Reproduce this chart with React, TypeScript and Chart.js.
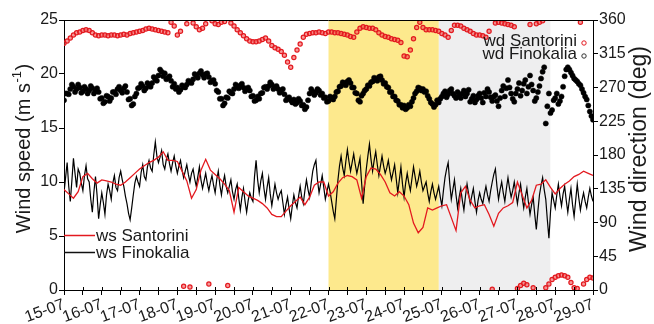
import React, { useEffect, useRef } from 'react';
import { Chart, registerables } from 'chart.js';

Chart.register(...registerables);

const FONT = '"Liberation Sans", Arial, Helvetica, sans-serif';

// x axis: days since 15-07 00:00
const dayLabels = ['15-07', '16-07', '17-07', '18-07', '19-07', '20-07', '21-07', '22-07', '23-07', '24-07', '25-07', '26-07', '27-07', '28-07', '29-07'];

// shaded periods (days since 15-07)
const yellowPeriod = [7.0, 9.92];
const grayPeriod = [9.92, 12.87];

// ws Santorini, m/s, every 3 h
const wsSantorini = [
  9.3, 8.9, 8.5, 9.1, 10.5, 10.8, 10.3, 9.9, 10.2, 10.1,
  10.0, 9.8, 9.7, 10.0, 10.4, 10.8, 11.2, 11.5, 11.8, 12.0,
  12.3, 12.8, 12.0, 12.0, 11.9, 11.0, 10.1, 8.5, 9.3, 11.1,
  12.1, 11.1, 10.7, 10.3, 9.8, 9.2, 7.2, 9.5, 9.1, 8.7,
  8.5, 8.3, 8.0, 7.6, 7.0, 6.8, 6.8, 7.3, 7.8, 8.2,
  8.6, 7.9, 8.6, 9.7, 10.0, 10.0, 8.7, 9.1, 9.9, 10.4,
  10.6, 10.5, 10.2, 8.5, 10.5, 11.3, 11.2, 10.7, 10.0, 9.0,
  8.7, 9.1, 8.7, 7.9, 6.2, 5.3, 5.8, 7.6, 7.4, 7.6,
  7.8, 7.9, 6.7, 5.5, 9.0, 9.6, 8.3, 7.6, 7.8, 7.9,
  7.0, 5.9, 7.1, 7.6, 7.8, 8.1, 10.0, 8.8, 7.6, 8.3,
  9.7, 9.8, 10.2, 9.5, 8.9, 9.4, 9.8, 10.1, 10.5, 10.7,
  11.0, 10.8, 10.6,
];
const wsSantoriniStepH = 3;

// ws Finokalia, m/s, hourly (one row per day)
const wsFinokalia = [
  9.0, 10.4, 11.8, 9.6, 8.2, 10.1, 12.2, 10.8, 9.5, 11.2, 10.8, 9.9, 9.2, 10.6, 11.5, 10.3, 10.0, 8.4, 7.2, 9.1, 10.5, 8.8, 6.6, 7.9,
  9.0, 8.1, 7.0, 8.8, 9.8, 9.2, 8.4, 9.9, 10.6, 9.5, 9.2, 10.4, 11.0, 10.2, 9.6, 8.7, 8.0, 7.1, 6.5, 7.6, 8.8, 9.9, 10.5, 10.0,
  9.6, 10.9, 11.6, 10.5, 10.2, 11.4, 12.0, 11.3, 11.0, 12.5, 13.7, 12.4, 11.8, 12.3, 12.9, 11.6, 11.2, 12.1, 12.6, 11.7, 11.0, 11.8, 12.4, 11.5,
  10.8, 11.5, 12.0, 11.1, 10.4, 11.0, 11.6, 10.7, 10.0, 10.8, 11.2, 10.3, 9.6, 10.5, 11.4, 10.2, 9.4, 10.1, 10.8, 9.9, 9.2, 10.0, 10.6, 9.7,
  9.0, 10.2, 11.0, 9.7, 8.8, 9.9, 10.6, 9.6, 9.0, 9.6, 10.2, 9.1, 8.4, 9.3, 9.8, 8.5, 7.4, 8.6, 9.4, 8.2, 7.2, 8.3, 9.0, 8.5,
  8.2, 10.5, 12.0, 10.2, 9.0, 10.1, 10.8, 9.4, 8.4, 9.5, 10.4, 8.9, 7.8, 8.8, 9.8, 9.0, 8.4, 8.9, 9.2, 8.1, 7.0, 7.9, 8.6, 7.5,
  6.6, 7.8, 8.8, 8.1, 7.6, 8.7, 9.6, 8.6, 8.0, 9.2, 10.2, 9.3, 8.6, 9.9, 11.0, 11.6, 12.0, 10.2, 9.0, 9.8, 10.6, 9.5, 8.4, 9.1,
  9.8, 9.1, 8.2, 7.3, 6.6, 8.4, 10.2, 11.5, 12.4, 11.3, 10.6, 11.9, 13.0, 11.9, 11.0, 11.8, 12.6, 11.6, 10.8, 11.5, 12.2, 10.0, 8.0, 9.7,
  11.2, 12.4, 13.5, 12.1, 11.0, 12.0, 12.8, 11.6, 10.6, 11.5, 12.4, 11.5, 10.8, 11.3, 12.0, 11.0, 10.2, 10.9, 11.6, 10.3, 9.0, 10.2, 11.4, 9.8,
  8.6, 9.9, 10.8, 9.9, 9.2, 10.3, 11.4, 10.5, 9.6, 10.2, 11.0, 10.0, 9.2, 9.6, 10.0, 9.0, 8.2, 9.1, 9.8, 9.0, 8.4, 9.0, 9.6, 8.6,
  7.8, 9.2, 10.4, 11.2, 11.8, 9.9, 8.4, 9.3, 10.2, 8.8, 7.6, 8.6, 9.4, 8.3, 7.4, 8.7, 9.8, 8.9, 8.0, 8.7, 9.4, 8.2, 7.2, 8.3,
  9.0, 8.4, 8.0, 8.9, 9.6, 8.8, 8.2, 9.2, 10.0, 10.7, 11.2, 9.6, 8.4, 9.3, 10.0, 9.0, 8.2, 9.4, 10.4, 9.4, 8.6, 9.2, 10.0, 9.0,
  8.0, 9.0, 9.8, 8.6, 7.6, 8.6, 9.4, 8.1, 7.0, 7.9, 8.6, 7.0, 5.6, 7.3, 8.8, 9.7, 10.4, 9.3, 8.4, 6.5, 4.8, 7.2, 9.0, 8.3,
  7.6, 8.8, 9.8, 8.7, 7.8, 8.9, 9.6, 8.3, 7.2, 8.4, 9.4, 7.9, 6.8, 8.3, 9.8, 8.5, 7.4, 8.3, 9.0, 8.2, 7.6, 8.6, 9.4, 8.7, 8.2,
];
const wsFinokaliaStepH = 1;

// wd Santorini, deg, every 2 h
const wdSantorini = [
  329, 332, 336, 340, 343, 344, 346, 347, 346, 343, 340, 339,
  340, 340, 339, 340, 340, 339, 340, 341, 340, 342, 343, 344,
  345, 346, 348, 349, 348, 347, 346, 345, 344, 343, 357, 352,
  340, 345, 5, 355, 4, 356, 351, 347, 349, 355, 8, 359,
  355, 354, 357, 358, 6, 356, 352, 347, 343, 339, 335, 332,
  331, 331, 332, 334, 336, 332, 326, 323, 321, 318, 313, 304,
  297, 310, 320, 328, 337, 341, 342, 343, 343, 344, 343, 342,
  344, 344, 343, 343, 342, 341, 340, 338, 337, 344, 349, 351,
  350, 349, 349, 347, 343, 340, 338, 337, 335, 334, 333, 330,
  312, 311, 320, 335, 350, 357, 350, 347, 347, 347, 346, 345,
  342, 340, 337, 346, 353, 353, 352, 349, 347, 345, 342, 340,
  340, 339, 337, 345, 1, 356, 357, 356, 355, 354, 353, 351,
  2, 6, 9, 7, 354, 3, 355, 357, 359, 3, 8, 14,
  17, 19, 20, 19, 17, 10, 3, 2, 357, 8, 14, 17, 16,
];
const wdSantoriniStepH = 2;

// wd Finokalia, deg, hourly (one row per day)
const wdFinokalia = [
  253, 262, 262, 261, 268, 274, 271, 264, 268, 274, 270, 263, 265, 271, 268, 262, 266, 272, 269, 262, 265, 269, 264, 255,
  256, 249, 251, 259, 258, 252, 256, 264, 264, 261, 268, 271, 266, 263, 269, 272, 264, 254, 255, 246, 248, 258, 262, 269,
  270, 275, 272, 266, 269, 276, 273, 271, 276, 284, 281, 279, 286, 294, 291, 285, 289, 281, 283, 285, 279, 271, 275, 268,
  270, 264, 267, 273, 271, 270, 274, 279, 277, 276, 281, 288, 286, 283, 289, 292, 287, 283, 288, 289, 284, 277, 279, 280,
  275, 266, 264, 255, 255, 246, 249, 257, 256, 265, 263, 262, 268, 274, 271, 269, 273, 275, 270, 265, 268, 270, 266, 258,
  259, 252, 253, 258, 255, 262, 263, 270, 271, 268, 272, 277, 274, 268, 270, 272, 268, 263, 266, 268, 261, 253, 256, 257,
  253, 250, 254, 248, 250, 255, 252, 246, 247, 241, 244, 253, 262, 268, 265, 260, 263, 268, 266, 260, 262, 256, 257, 251,
  252, 258, 256, 254, 258, 264, 265, 271, 272, 277, 276, 273, 278, 280, 276, 270, 270, 263, 262, 253, 251, 259, 262, 266,
  268, 273, 272, 277, 278, 283, 281, 279, 284, 285, 280, 275, 276, 271, 270, 264, 264, 258, 258, 253, 252, 247, 247, 243,
  246, 241, 243, 247, 245, 251, 256, 262, 265, 270, 269, 266, 268, 264, 265, 259, 255, 250, 248, 244, 247, 253, 250, 255,
  258, 262, 265, 257, 261, 266, 268, 262, 259, 256, 264, 259, 256, 262, 266, 258, 262, 267, 251, 255, 259, 250, 254, 259,
  262, 256, 250, 263, 258, 268, 264, 257, 252, 258, 260, 252, 245, 256, 266, 272, 258, 269, 280, 270, 262, 255, 251, 262,
  268, 276, 259, 266, 275, 280, 262, 271, 286, 274, 266, 252, 256, 264, 272, 282, 291, 297, 222, 245, 262, 236, 240, 253,
  256, 262, 248, 252, 258, 271, 285, 294, 297, 294, 290, 286, 282, 280, 278, 275, 273, 268, 263, 258, 254, 246, 238, 232, 227,
];
const wdFinokaliaStepH = 1;

const seriesNames = ['ws Santorini', 'ws Finokalia', 'wd Santorini', 'wd Finokalia'];
const leftTitle = ['Wind speed (m s', '-1', ')'];
const rightTitle = 'Wind direction (deg)';

const RED = '#e3191f';

const toPoints = (vals: number[], stepH: number) => vals.map((v, i) => ({ x: (i * stepH) / 24, y: v }));

const decorPlugin = {
  id: 'decor',
  beforeDraw(chart: any) {
    const { ctx, chartArea: a, scales } = chart;
    const x = scales.x;
    ctx.save();
    const y0 = x.getPixelForValue(yellowPeriod[0]);
    const y1 = x.getPixelForValue(yellowPeriod[1]);
    ctx.fillStyle = '#fde98d';
    ctx.fillRect(y0, a.top, y1 - y0, a.bottom - a.top);
    const g0 = x.getPixelForValue(grayPeriod[0]);
    const g1 = x.getPixelForValue(grayPeriod[1]);
    ctx.fillStyle = '#eeeeef';
    ctx.fillRect(g0, a.top, g1 - g0, a.bottom - a.top);
    ctx.restore();
  },
  afterDraw(chart: any) {
    const { ctx, chartArea: a, scales } = chart;
    const x = scales.x;
    ctx.save();
    // top frame line
    ctx.strokeStyle = '#000';
    ctx.lineWidth = 1;
    ctx.beginPath();
    ctx.moveTo(a.left, Math.round(a.top) + 0.5);
    ctx.lineTo(a.right, Math.round(a.top) + 0.5);
    ctx.stroke();
    // inner part of x ticks
    ctx.beginPath();
    x.ticks.forEach((t: any) => {
      const px = Math.round(x.getPixelForValue(t.value)) + 0.5;
      ctx.moveTo(px, a.bottom - 3);
      ctx.lineTo(px, a.bottom);
    });
    ctx.stroke();

    // axis titles
    ctx.fillStyle = '#1a1a1a';
    ctx.textBaseline = 'middle';
    const mainF = `20px ${FONT}`;
    const supF = `13px ${FONT}`;
    ctx.font = mainF;
    const w1 = ctx.measureText(leftTitle[0]).width;
    const w3 = ctx.measureText(leftTitle[2]).width;
    ctx.font = supF;
    const w2 = ctx.measureText(leftTitle[1]).width;
    const tot = w1 + w2 + w3;
    ctx.save();
    ctx.translate(24, (a.top + a.bottom) / 2 - 6);
    ctx.rotate(-Math.PI / 2);
    ctx.textAlign = 'left';
    ctx.font = mainF;
    ctx.fillText(leftTitle[0], -tot / 2, 0);
    ctx.font = supF;
    ctx.fillText(leftTitle[1], -tot / 2 + w1 + 0.5, -7);
    ctx.font = mainF;
    ctx.fillText(leftTitle[2], -tot / 2 + w1 + w2 + 1, 0);
    ctx.restore();

    ctx.save();
    ctx.translate(640, (a.top + a.bottom) / 2 - 6);
    ctx.rotate(-Math.PI / 2);
    ctx.textAlign = 'center';
    ctx.font = `23px ${FONT}`;
    ctx.fillText(rightTitle, 0, 0);
    ctx.restore();

    // legend bottom-left (lines)
    ctx.font = `17px ${FONT}`;
    ctx.textAlign = 'left';
    ctx.textBaseline = 'middle';
    const lx0 = a.left;
    const lx1 = a.left + 31;
    const ly = [a.top + 215, a.top + 232];
    const lc = [RED, '#111'];
    for (let k = 0; k < 2; k++) {
      ctx.strokeStyle = lc[k];
      ctx.lineWidth = 1.5;
      ctx.beginPath();
      ctx.moveTo(lx0, ly[k] + 0.5);
      ctx.lineTo(lx1, ly[k] + 0.5);
      ctx.stroke();
      ctx.fillStyle = '#1a1a1a';
      ctx.fillText(seriesNames[k], lx1 + 1, ly[k] + 1);
    }

    // legend top-right (markers)
    ctx.textAlign = 'right';
    const ry = [a.top + 21, a.top + 34];
    const rc = [RED, '#333'];
    for (let k = 0; k < 2; k++) {
      ctx.fillStyle = '#1a1a1a';
      ctx.fillText(seriesNames[k + 2], a.right - 16, ry[k]);
      ctx.strokeStyle = rc[k];
      ctx.lineWidth = 1;
      ctx.beginPath();
      ctx.arc(a.right - 9, ry[k] + 2, 2.2, 0, Math.PI * 2);
      ctx.stroke();
    }
    ctx.restore();
  },
};

export default function App() {
  const canvasRef = useRef<HTMLCanvasElement | null>(null);

  useEffect(() => {
    const canvas = canvasRef.current;
    if (!canvas) return;
    Chart.defaults.font.family = FONT;
    const chart = new Chart(canvas, {
      type: 'scatter',
      data: {
        datasets: [
          {
            label: seriesNames[0],
            data: toPoints(wsSantorini, wsSantoriniStepH),
            showLine: true,
            borderColor: RED,
            borderWidth: 1.3,
            pointRadius: 0,
            yAxisID: 'y',
          },
          {
            label: seriesNames[1],
            data: toPoints(wsFinokalia, wsFinokaliaStepH),
            showLine: true,
            borderColor: '#000',
            borderWidth: 1.2,
            pointRadius: 0,
            yAxisID: 'y',
          },
          {
            label: seriesNames[2],
            data: toPoints(wdSantorini, wdSantoriniStepH),
            showLine: false,
            pointRadius: 2.1,
            pointBorderWidth: 1.2,
            borderColor: RED,
            backgroundColor: 'rgba(240,70,70,0.55)',
            yAxisID: 'y2',
          },
          {
            label: seriesNames[3],
            data: toPoints(wdFinokalia, wdFinokaliaStepH),
            showLine: false,
            pointRadius: 2.6,
            pointBorderWidth: 0.5,
            borderColor: '#000',
            backgroundColor: '#000',
            yAxisID: 'y2',
          },
        ],
      },
      options: {
        animation: false,
        responsive: true,
        maintainAspectRatio: false,
        devicePixelRatio: 1,
        events: [],
        layout: { padding: { top: 20, left: 0, right: 0, bottom: 0 } },
        plugins: { legend: { display: false }, tooltip: { enabled: false } },
        scales: {
          x: {
            type: 'linear',
            min: 0,
            max: 14,
            afterFit: (s: any) => { s.height = 34; },
            ticks: {
              stepSize: 0.5,
              autoSkip: false,
              maxRotation: 20,
              minRotation: 20,
              padding: 0,
              color: '#1a1a1a',
              font: { size: 16, family: FONT },
              callback: (v: any) => (Number.isInteger(v) ? dayLabels[v] : ''),
            },
            grid: { drawOnChartArea: false, color: '#000', tickColor: '#000', tickLength: 5 },
            border: { color: '#000', width: 1 },
          },
          y: {
            position: 'left',
            min: 0,
            max: 25,
            afterFit: (s: any) => { s.width = 64; },
            ticks: { stepSize: 5, padding: 1, color: '#1a1a1a', font: { size: 16, family: FONT } },
            grid: { drawOnChartArea: false, color: '#000', tickColor: '#000', tickLength: 5 },
            border: { color: '#000', width: 1 },
          },
          y2: {
            position: 'right',
            min: 0,
            max: 360,
            afterFit: (s: any) => { s.width = 61; },
            ticks: { stepSize: 45, padding: 1, color: '#1a1a1a', font: { size: 16, family: FONT } },
            grid: { drawOnChartArea: false, color: '#000', tickColor: '#000', tickLength: 5 },
            border: { color: '#000', width: 1 },
          },
        },
      },
      plugins: [decorPlugin],
    } as any);
    return () => chart.destroy();
  }, []);

  return (
    <div style={{ position: 'absolute', left: 0, top: 0, width: 654, height: 324, background: '#fff' }}>
      <canvas ref={canvasRef} />
    </div>
  );
}
